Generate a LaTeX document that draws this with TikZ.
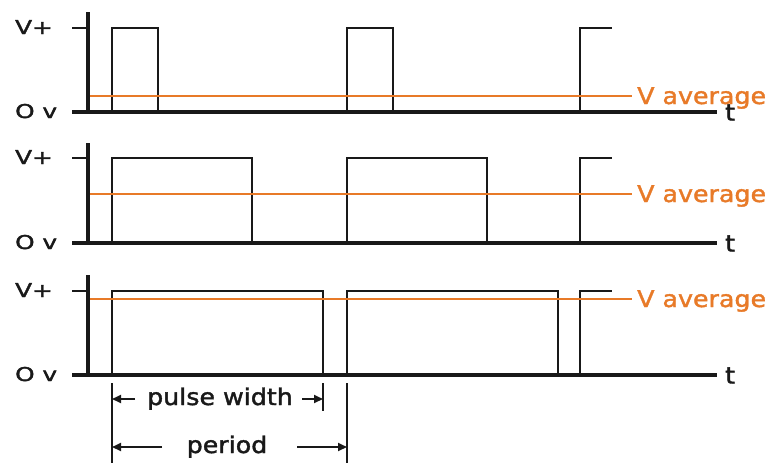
\documentclass[tikz,border=0pt]{standalone}
\usepackage{fontspec}
\setmainfont{DejaVu Sans}
\newfontfamily\axisfont[FakeStretch=1.3,FakeBold=2]{DejaVu Sans}
\newfontfamily\notefont[FakeStretch=1.1,FakeBold=1.6]{DejaVu Sans}
\usetikzlibrary{arrows.meta}
\definecolor{avgorange}{RGB}{232,122,40}
\definecolor{ink}{RGB}{25,25,25}

\begin{document}
\begin{tikzpicture}[x=1pt,y=-1pt,
  axisline/.style={ink,line width=3.2pt},
  tickline/.style={ink,line width=1.8pt},
  wave/.style={ink,line width=2pt,line join=miter},
  avgline/.style={avgorange,line width=1.8pt},
  axislabel/.style={font=\axisfont\fontsize{19}{22}\selectfont,text=ink,inner sep=0pt,anchor=base west},
  note/.style={font=\notefont\fontsize{23}{27}\selectfont,text=ink,inner sep=0pt,anchor=base},
  avglabel/.style={note,text=avgorange,anchor=base west},
  dimline/.style={ink,line width=2pt},
  dimarrow/.style={ink,line width=2pt,-{Triangle[length=9pt,width=8pt]}}
]
\useasboundingbox (0,0) rectangle (775,463);
\fill[white] (0,0) rectangle (775,463);

% three PWM traces: axis top, high level, zero level, average level, pulse width
\foreach \n/\yT/\yH/\yB/\yA/\w in {1/12/28/112/96/46, 2/143/158/243/194/140, 3/275/291/375/299/211} {
  \draw[wave] (112,\yB) -- (112,\yH) -- ({112+\w},\yH) -- ({112+\w},\yB);
  \draw[wave] (347,\yB) -- (347,\yH) -- ({347+\w},\yH) -- ({347+\w},\yB);
  \draw[wave] (580,\yB) -- (580,\yH) -- (612,\yH);
  \draw[avgline] (88,\yA) -- (632,\yA);
  \draw[axisline] (88,\yT) -- (88,\yB);
  \draw[axisline] (72,\yB) -- (717,\yB);
  \draw[tickline] (72,\yH) -- (88,\yH);
  \node[axislabel] (vplus\n) at (15,{\yH+6}) {V+};
  \node[axislabel] (zero\n) at (15,{\yB+6}) {O v};
  \node[note,anchor=base west] (t\n) at (725,{\yB+8.5}) {t};
  \node[avglabel] (avg\n) at (637,{\yA+8}) {V average};
}

% dimension lines below the last trace
\coordinate (extL0) at (112,383);
\coordinate (extL1) at (112,463);
\coordinate (extW0) at (323,383);
\coordinate (extW1) at (323,411);
\coordinate (extP0) at (347,383);
\coordinate (extP1) at (347,463);
\draw[dimline] (extL0) -- (extL1);
\draw[dimline] (extW0) -- (extW1);
\draw[dimline] (extP0) -- (extP1);

\node[note] (pw) at (220,405) {pulse width};
\coordinate (pwA) at (135,399);
\coordinate (pwAend) at (112,399);
\coordinate (pwB) at (302,399);
\coordinate (pwBend) at (323,399);
\draw[dimarrow] (pwA) -- (pwAend);
\draw[dimarrow] (pwB) -- (pwBend);

\node[note] (per) at (227,453) {period};
\coordinate (perA) at (162,447);
\coordinate (perAend) at (112,447);
\coordinate (perB) at (297,447);
\coordinate (perBend) at (347,447);
\draw[dimarrow] (perA) -- (perAend);
\draw[dimarrow] (perB) -- (perBend);
\end{tikzpicture}
\end{document}
